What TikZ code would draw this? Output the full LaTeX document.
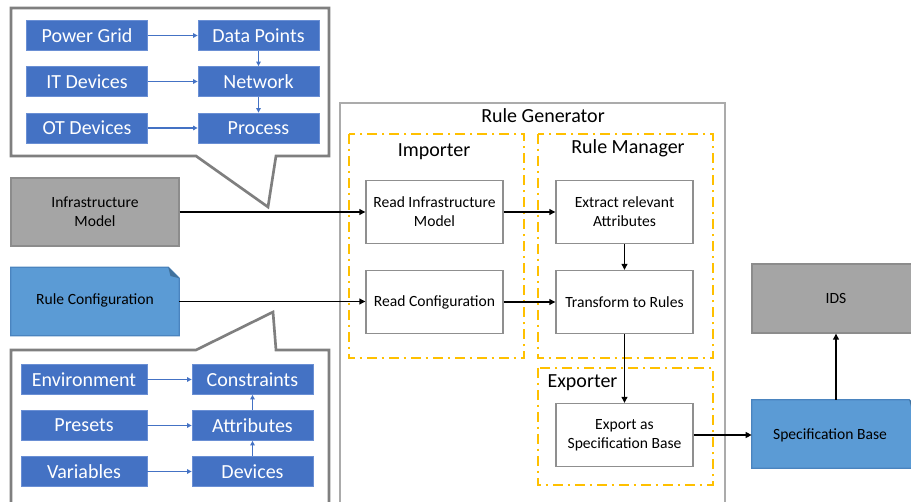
\documentclass[tikz,border=0pt]{standalone}
\usepackage{fontspec}
\setmainfont{Carlito}
\usetikzlibrary{arrows.meta}
\definecolor{boxblue}{HTML}{4472C4}
\definecolor{boxedge}{HTML}{6A8FD4}
\definecolor{docblue}{HTML}{5B9BD5}
\definecolor{docedge}{HTML}{4A84BF}
\definecolor{folddark}{HTML}{41719C}
\definecolor{modelgray}{HTML}{A5A5A5}
\definecolor{modeledge}{HTML}{8C8C8C}
\definecolor{calloutgray}{HTML}{7F7F7F}
\definecolor{framegray}{HTML}{ABABAB}
\definecolor{procgray}{HTML}{8F8F8F}
\definecolor{groupgold}{HTML}{FFC000}
\begin{document}
\begin{tikzpicture}[x=0.75pt,y=-0.75pt,
  bigfont/.style={font=\fontsize{15}{18}\selectfont},
  smallfont/.style={font=\fontsize{11.7}{14.3}\selectfont},
  bluebox/.style={draw=boxedge, fill=boxblue, line width=0.6pt, text=white,
    inner sep=0pt, minimum width=90.75pt, minimum height=22.5pt, bigfont},
  bluearrow/.style={draw=boxblue, line width=0.8pt, -{Triangle[length=3.3pt,width=3.3pt]}},
  callout/.style={draw=calloutgray, line width=2pt, fill=white, line join=miter},
  procbox/.style={draw=procgray, line width=0.9pt, fill=white, inner sep=0pt,
    minimum width=102.75pt, minimum height=47.25pt, align=center, smallfont},
  modelbox/.style={draw=modeledge, line width=0.9pt, fill=modelgray, inner sep=0pt,
    minimum width=126pt, minimum height=51pt, align=center, smallfont},
  docbox/.style={inner sep=0pt, minimum width=126pt, minimum height=51pt, smallfont},
  docshape/.style={draw=docedge, line width=0.8pt, fill=docblue},
  group/.style={draw=groupgold, line width=2.1pt,
    dash pattern=on 7.5pt off 3.5pt on 2pt off 3.5pt},
  frame/.style={draw=framegray, line width=0.9pt},
  flow/.style={line width=1.35pt, -{Triangle[length=4.6pt,width=4.4pt]}},
  title/.style={inner sep=0pt, bigfont}
]
\useasboundingbox (0,0) rectangle (911,502);
\clip (0,0) rectangle (911,502);

% callout with the infrastructure model parts
\draw[callout] (11,8) -- (329,8) -- (329,156) -- (276,156) -- (268,207)
  -- (196,156) -- (11,156) -- cycle;
\node[bluebox] (pg) at (87,35.5) {Power Grid};
\node[bluebox] (dp) at (258.5,35.5) {Data Points};
\node[bluebox] (itd) at (87,81.5) {IT Devices};
\node[bluebox] (net) at (258.5,81.5) {Network};
\node[bluebox] (otd) at (87,128) {OT Devices};
\node[bluebox] (proc) at (258.5,128) {Process};
\draw[bluearrow] (pg) -- (dp);
\draw[bluearrow] (itd) -- (net);
\draw[bluearrow] (otd) -- (proc);
\draw[bluearrow] (dp) -- (net);
\draw[bluearrow] (net) -- (proc);

% callout with the rule configuration parts
\draw[callout] (11,520) -- (11,350) -- (196,350) -- (273,312) -- (276,350)
  -- (329,350) -- (329,520);
\node[bluebox, minimum width=94.5pt] (env) at (84,379.5) {Environment};
\node[bluebox] (con) at (252.5,379.5) {Constraints};
\node[bluebox, minimum width=94.5pt] (pre) at (84,425.5) {Presets};
\node[bluebox] (att) at (252.5,425.5) {Attributes};
\node[bluebox, minimum width=94.5pt] (var) at (84,471.5) {Variables};
\node[bluebox] (dev) at (252.5,471.5) {Devices};
\draw[bluearrow] (env) -- (con);
\draw[bluearrow] (pre) -- (att);
\draw[bluearrow] (var) -- (dev);
\draw[bluearrow] (dev) -- (att);
\draw[bluearrow] (att) -- (con);

% inputs
\node[modelbox] (im) at (95,212) {Infrastructure\\Model};
\node[docbox] (rc) at (95,301.5) {};
\draw[docshape] (rc.south west) -- (rc.north west) -- ([xshift=-8.25pt]rc.north east)
  -- ([yshift=-8.25pt]rc.north east) -- (rc.south east) -- cycle;
\fill[folddark] ([xshift=-8.25pt]rc.north east) -- ([yshift=-8.25pt]rc.north east)
  -- ([xshift=-6.6pt,yshift=-6.6pt]rc.north east) -- cycle;
\node[smallfont, inner sep=0pt] (rclabel) at (95,300.5) {Rule Configuration};

% rule generator
\draw[frame] (340,103) rectangle (725,520);
\node[title] (rgtitle) at (543,116) {Rule Generator};
\draw[group] (349,134) rectangle (524,358);
\draw[group] (538,134) rectangle (713,358);
\draw[group] (538,368) rectangle (713,485);
\node[title] (imptitle) at (434,152) {Importer};
\node[title] (rmtitle) at (628,148) {Rule Manager};
\node[title] (exptitle) at (582.5,383) {Exporter};

\node[procbox] (ri) at (434.5,212) {Read Infrastructure\\Model};
\node[procbox] (rcf) at (434.5,302) {Read Configuration};
\node[procbox] (ex) at (624.5,212) {Extract relevant\\Attributes};
\node[procbox] (tr) at (624.5,302) {Transform to Rules};
\node[procbox] (eb) at (624.5,435) {Export as\\Specification Base};

% outputs
\node[modelbox, minimum height=51.75pt] (ids) at (836,298.5) {IDS};
\node[docbox] (sb) at (836,434) {};
\draw[docshape] (sb.south west) -- (sb.north west) -- ([xshift=-8.25pt]sb.north east)
  -- ([yshift=-8.25pt]sb.north east) -- (sb.south east) -- cycle;
\fill[folddark] ([xshift=-8.25pt]sb.north east) -- ([yshift=-8.25pt]sb.north east)
  -- ([xshift=-6.6pt,yshift=-6.6pt]sb.north east) -- cycle;
\node[smallfont, inner sep=0pt] (sblabel) at (830,435) {Specification Base};

% data flow
\draw[flow] (im.east) -- (im.east -| ri.west);
\draw[flow] (rc.east) -- (rc.east -| rcf.west);
\draw[flow] (ri) -- (ex);
\draw[flow] (rcf) -- (tr);
\draw[flow] (ex) -- (tr);
\draw[flow] (tr) -- (eb);
\draw[flow] (eb.east) -- (eb.east -| sb.west);
\draw[flow] (sb.north) -- (ids.south);
\end{tikzpicture}
\end{document}
